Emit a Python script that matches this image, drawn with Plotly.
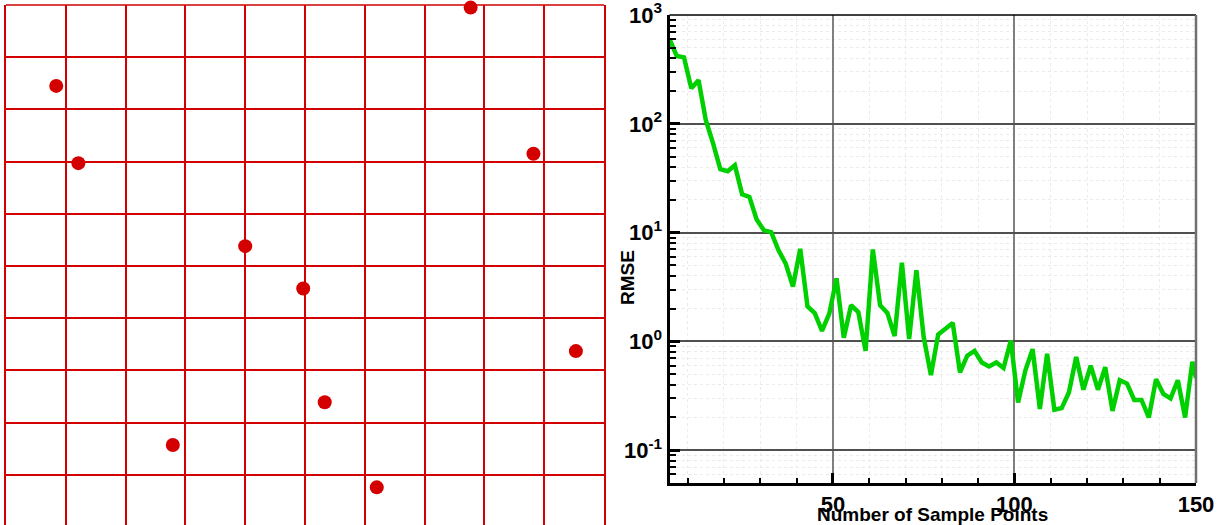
import plotly.graph_objects as go

# ---------------- data ----------------
# Left panel: Latin hypercube sample points on a 10x10 grid
lhs_x = [7.77, 0.84, 1.21, 8.82, 4.00, 4.97, 9.53, 5.33, 2.79, 6.20]
lhs_y = [9.95, 8.45, 6.97, 7.15, 5.38, 4.57, 3.37, 2.39, 1.57, 0.76]

# Right panel: RMSE vs number of sample points
n_samples = [5, 7, 9, 11, 13, 15, 17, 19, 21, 23, 25, 27, 29, 31, 33, 35, 37, 39, 41, 43,
             45, 47, 49, 51, 53, 55, 57, 59, 61, 63, 65, 67, 69, 71, 73, 75, 77, 79, 81, 83,
             85, 87, 89, 91, 93, 95, 97, 99, 101, 103, 105, 107, 109, 111, 113, 115, 117, 119, 121, 123,
             125, 127, 129, 131, 133, 135, 137, 139, 141, 143, 145, 147, 149, 150]
rmse = [600, 420, 408, 212, 252, 108, 66, 38.3, 36.7, 41.7, 22.5, 21.3, 13.2, 10.5, 10.1, 6.9, 5.2, 3.2, 7.1, 2.1,
        1.82, 1.25, 1.8, 3.8, 1.08, 2.15, 1.86, 0.82, 7.0, 2.15, 1.83, 1.12, 5.3, 1.05, 4.5, 1.1, 0.49, 1.16, 1.31, 1.48,
        0.52, 0.74, 0.82, 0.64, 0.59, 0.64, 0.57, 1.02, 0.275, 0.54, 0.85, 0.24, 0.77, 0.236, 0.244, 0.34, 0.72, 0.36, 0.6, 0.36,
        0.58, 0.23, 0.44, 0.41, 0.29, 0.29, 0.2, 0.45, 0.33, 0.30, 0.44, 0.2, 0.65, 0.46]

x_tickvals = [50, 100, 150]
x_ticktext = ["50", "100", "150"]
y_tickvals = [0.1, 1, 10, 100, 1000]
y_ticktext = ["10<sup>-1</sup>", "10<sup>0</sup>", "10<sup>1</sup>", "10<sup>2</sup>", "10<sup>3</sup>"]
y_minor_vals = [k * 10.0 ** e for e in range(-2, 3) for k in range(2, 10)]

W, H = 1222, 525
RED = "#d20000"
FONT = "Liberation Sans, Arial, sans-serif"

fig = go.Figure()

fig.add_trace(go.Scatter(
    x=lhs_x, y=lhs_y, mode="markers", xaxis="x", yaxis="y",
    marker=dict(size=14, color="#d40000"), cliponaxis=False, showlegend=False))

fig.add_trace(go.Scatter(
    x=n_samples, y=rmse, mode="lines", xaxis="x2", yaxis="y2",
    line=dict(color="#00d000", width=4.5), showlegend=False))

# panel geometry (pixels)
L1, R1, T1 = 6, 604, 5
L2, R2, T2, B2 = 669.5, 1196, 15, 483

fig.update_layout(
    template="none",
    width=W, height=H, margin=dict(l=0, r=0, t=0, b=0, pad=0, autoexpand=False),
    paper_bgcolor="white", plot_bgcolor="white",
    font=dict(family=FONT, color="black"),
    xaxis=dict(domain=[L1 / W, R1 / W], range=[0, 10], tickmode="linear", tick0=0, dtick=1,
               showticklabels=False, ticks="", showgrid=True, gridcolor=RED, gridwidth=1.5,
               zeroline=False, showline=False, anchor="y", automargin=False),
    yaxis=dict(domain=[0, (H - T1) / H], range=[10 - (H - T1) / 52.2, 10], tickmode="linear", tick0=0, dtick=1,
               showticklabels=False, ticks="", showgrid=True, gridcolor=RED, gridwidth=1.5,
               zeroline=False, showline=True, mirror=True, linecolor=RED, linewidth=1.5, anchor="x",
               automargin=False),
    xaxis2=dict(domain=[L2 / W, R2 / W], range=[5, 150], anchor="y2", automargin=False,
                tickmode="array", tickvals=x_tickvals, ticktext=x_ticktext,
                ticks="inside", ticklen=10, tickwidth=3, tickcolor="black",
                ticklabeloverflow="allow",
                tickfont=dict(family=FONT, size=22, color="black", weight="bold"),
                showline=True, linecolor="black", linewidth=3, zeroline=False,
                showgrid=True, gridcolor="#808080", gridwidth=1.5,
                minor=dict(tickmode="linear", tick0=0, dtick=10, ticks="inside", ticklen=5,
                           tickwidth=1.5, tickcolor="black", showgrid=True,
                           gridcolor="#ebebeb", griddash="dot", gridwidth=1)),
    yaxis2=dict(domain=[(H - B2) / H, (H - T2) / H], type="log", range=[-1.30103, 3.0001], anchor="x2",
                automargin=False,
                tickmode="array", tickvals=y_tickvals, ticktext=y_ticktext,
                ticks="inside", ticklen=10, tickwidth=3, tickcolor="black",
                ticklabeloverflow="allow",
                tickfont=dict(family=FONT, size=22, color="black", weight="bold"),
                showline=True, linecolor="black", linewidth=3, zeroline=False,
                showgrid=True, gridcolor="#505050", gridwidth=1.5,
                minor=dict(tickmode="array", tickvals=y_minor_vals, ticks="inside", ticklen=6,
                           tickwidth=1.5, tickcolor="black", showgrid=True,
                           gridcolor="#ebebeb", griddash="dot", gridwidth=1)),
    shapes=[
        dict(type="line", xref="x domain", yref="y domain", x0=0, x1=1, y0=1, y1=1,
             line=dict(color=RED, width=1.5)),
        dict(type="line", xref="x2 domain", yref="y2 domain", x0=0, x1=1, y0=1, y1=1,
             line=dict(color="black", width=1.5)),
        dict(type="line", xref="x2 domain", yref="y2 domain", x0=1, x1=1, y0=0, y1=1,
             line=dict(color="#707070", width=2.5)),
    ],
    annotations=[
        dict(text="<b>RMSE</b>", xref="paper", yref="paper", x=627 / W, y=(H - 278) / H,
             textangle=-90, showarrow=False, font=dict(family=FONT, size=19, color="black"),
             xanchor="center", yanchor="middle"),
        dict(text="<b>Number of Sample Points</b>", xref="paper", yref="paper",
             x=(L2 + R2) / 2 / W, y=(H - 514) / H, showarrow=False,
             font=dict(family=FONT, size=19, color="black"), xanchor="center", yanchor="middle"),
    ],
)

fig.write_html("out.html")
